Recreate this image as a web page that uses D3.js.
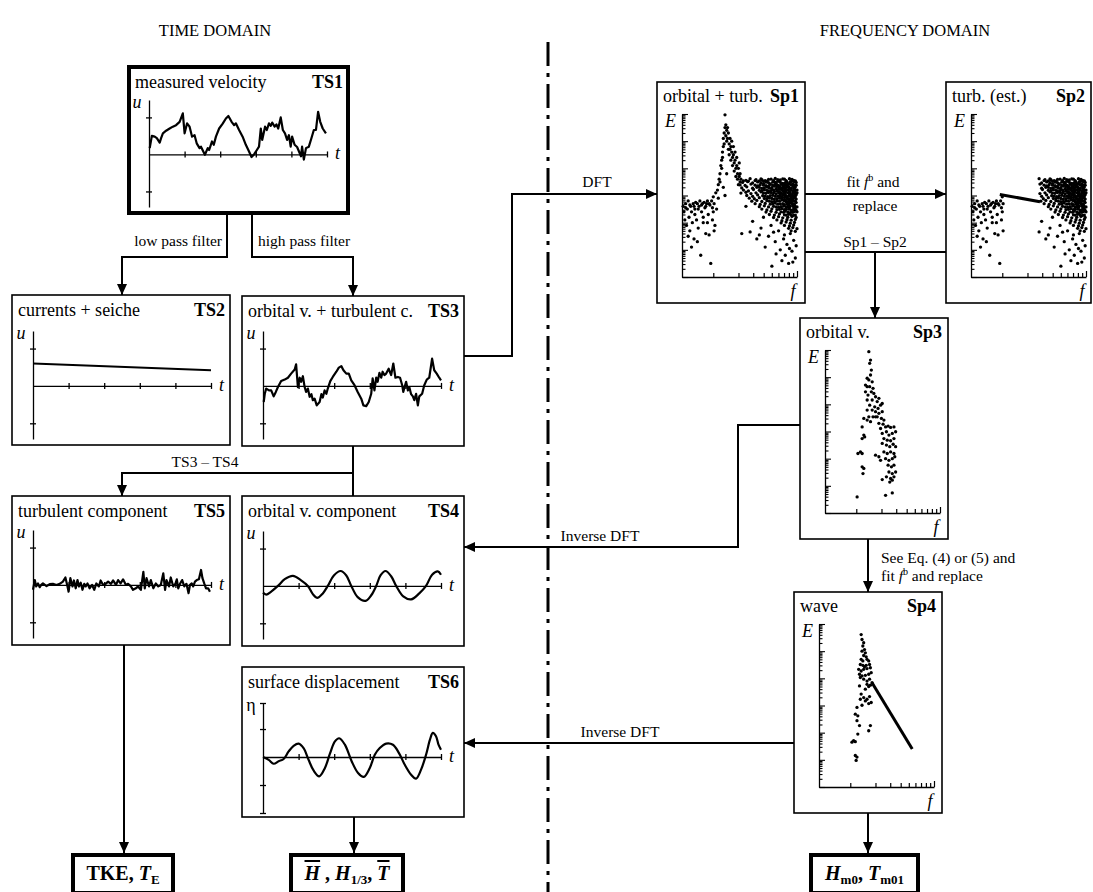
<!DOCTYPE html>
<html>
<head>
<meta charset="utf-8">
<script src="https://cdn.jsdelivr.net/npm/d3@7"></script>
<style>
  body { margin: 0; background: #fff; }
  svg { display: block; font-family: "Liberation Serif", "Times New Roman", serif; }
</style>
</head>
<body>
<svg id="chart" width="1093" height="892" font-family="Liberation Serif, Times New Roman, serif"></svg>
<script>
// ---------- data ----------
const headings = ['TIME DOMAIN', 'FREQUENCY DOMAIN'];
const tsTicks = [1, 2, 3, 4, 5];

// time series: [t (tick units), u (tick units)]
const ts1Velocity = [[0.02,0.17],[0.08,0.5],[0.16,0.48],[0.22,0.44],[0.30,0.32],[0.34,0.44],[0.39,0.57],[0.48,0.64],[0.58,0.70],[0.67,0.75],[0.76,0.79],[0.86,0.88],[0.95,1.11],[1.00,0.57],[1.07,0.84],[1.14,0.75],[1.21,0.48],[1.28,0.52],[1.34,0.30],[1.42,0.17],[1.46,0.21],[1.57,-0.01],[1.65,0.17],[1.69,0.12],[1.77,0.35],[1.82,0.26],[1.88,0.48],[1.97,0.70],[2.07,0.83],[2.16,0.97],[2.23,1.04],[2.32,0.88],[2.39,0.79],[2.44,0.84],[2.53,0.66],[2.63,0.48],[2.72,0.26],[2.81,0.08],[2.88,-0.07],[2.95,0.0],[3.03,0.12],[3.09,0.21],[3.14,0.70],[3.18,0.39],[3.26,0.75],[3.31,0.66],[3.37,0.84],[3.42,0.77],[3.46,0.86],[3.53,0.75],[3.58,0.81],[3.63,0.70],[3.70,1.00],[3.76,0.66],[3.82,0.57],[3.88,0.39],[3.93,0.52],[3.98,0.21],[4.02,0.48],[4.09,0.26],[4.16,0.20],[4.27,-0.05],[4.30,0.21],[4.35,-0.14],[4.41,0.17],[4.49,0.21],[4.56,0.43],[4.63,0.66],[4.69,0.66],[4.75,1.15],[4.81,0.88],[4.88,0.70],[4.97,0.57]];
const ts2Current = [[0, 0.60], [5, 0.42]];
const ts3OrbTurb = [[0.02,-0.43],[0.05,-0.21],[0.09,-0.07],[0.17,-0.12],[0.23,-0.12],[0.30,-0.28],[0.36,-0.16],[0.42,-0.03],[0.51,0.13],[0.61,0.17],[0.70,0.22],[0.79,0.33],[0.89,0.44],[0.93,0.58],[0.98,-0.03],[1.03,0.22],[1.07,0.11],[1.12,0.26],[1.17,-0.03],[1.21,-0.16],[1.26,-0.07],[1.31,-0.29],[1.36,-0.22],[1.40,-0.38],[1.45,-0.34],[1.51,-0.52],[1.59,-0.43],[1.64,-0.22],[1.68,-0.31],[1.73,-0.12],[1.78,-0.21],[1.82,-0.07],[1.89,0.13],[1.96,0.24],[2.06,0.38],[2.13,0.49],[2.20,0.53],[2.26,0.42],[2.34,0.33],[2.41,0.33],[2.48,0.15],[2.57,0.02],[2.66,-0.16],[2.76,-0.34],[2.82,-0.52],[2.90,-0.54],[2.97,-0.43],[3.04,-0.21],[3.08,0.20],[3.13,-0.12],[3.18,0.22],[3.22,0.11],[3.27,0.35],[3.32,0.22],[3.36,0.38],[3.41,0.29],[3.46,0.33],[3.53,0.46],[3.60,0.29],[3.66,0.60],[3.72,0.22],[3.79,0.24],[3.85,0.22],[3.91,0.02],[3.94,-0.16],[4.02,0.11],[4.07,-0.12],[4.11,-0.03],[4.16,-0.22],[4.21,-0.28],[4.25,-0.38],[4.30,-0.21],[4.35,-0.52],[4.39,-0.28],[4.47,-0.21],[4.53,0.02],[4.60,0.17],[4.67,0.22],[4.75,0.73],[4.81,0.42],[4.88,0.33],[4.95,0.22],[5.00,0.15]];
const ts4Orbital = [[0,-0.18],[0.09,-0.23],[0.23,-0.15],[0.42,0.0],[0.61,0.18],[0.84,0.27],[1.07,0.15],[1.26,0.0],[1.40,-0.22],[1.52,-0.32],[1.68,-0.20],[1.82,0.0],[1.99,0.28],[2.18,0.40],[2.34,0.28],[2.48,0.0],[2.66,-0.30],[2.88,-0.40],[3.04,-0.25],[3.18,0.0],[3.30,0.28],[3.44,0.40],[3.60,0.26],[3.74,0.0],[3.94,-0.28],[4.16,-0.36],[4.39,-0.20],[4.58,0.0],[4.75,0.30],[4.91,0.39],[5.00,0.30]];
const ts5Turbulent = [[0.00,-0.13],[0.05,0.13],[0.09,-0.04],[0.14,0.04],[0.19,-0.06],[0.23,0],[0.28,0.04],[0.38,-0.03],[0.47,0.02],[0.56,0.03],[0.66,0],[0.75,0.03],[0.84,0.09],[0.91,0.20],[0.96,0],[1.00,-0.18],[1.05,0.18],[1.11,-0.04],[1.15,0.12],[1.20,-0.09],[1.25,0.13],[1.29,-0.04],[1.34,0.06],[1.39,-0.13],[1.44,0.03],[1.48,-0.04],[1.53,0.04],[1.59,-0.09],[1.66,0],[1.72,-0.13],[1.78,0.04],[1.85,-0.04],[1.90,0.12],[1.97,0],[2.04,0.03],[2.11,0.09],[2.19,0.03],[2.25,0.12],[2.33,0],[2.39,0.13],[2.46,0.04],[2.53,0.15],[2.61,0],[2.67,0.03],[2.75,-0.04],[2.81,-0.13],[2.89,-0.09],[2.95,-0.04],[3.03,-0.13],[3.10,0.35],[3.14,-0.09],[3.19,0.18],[3.26,-0.04],[3.31,0.13],[3.38,-0.09],[3.45,0.04],[3.52,-0.04],[3.59,0],[3.66,0.31],[3.71,-0.13],[3.75,0.13],[3.82,-0.04],[3.87,0.20],[3.94,-0.04],[4.00,0.03],[4.04,0.15],[4.08,-0.09],[4.13,0.03],[4.19,0.13],[4.25,-0.04],[4.31,0.03],[4.37,-0.22],[4.41,0],[4.46,0.04],[4.50,-0.04],[4.55,0.09],[4.60,0.13],[4.66,0.15],[4.72,0.40],[4.76,0.18],[4.81,0.04],[4.86,-0.09],[4.92,-0.09],[4.97,-0.18]];
const ts6Surface = [[0,0],[0.16,-0.10],[0.30,-0.24],[0.44,-0.15],[0.58,-0.07],[0.72,0.20],[0.86,0.40],[1.00,0.48],[1.14,0.32],[1.28,-0.10],[1.42,-0.48],[1.58,-0.69],[1.74,-0.39],[1.88,0.12],[2.02,0.56],[2.14,0.67],[2.30,0.44],[2.49,-0.15],[2.67,-0.57],[2.83,-0.71],[3.00,-0.39],[3.14,0.08],[3.28,0.32],[3.46,0.48],[3.65,0.44],[3.82,0.14],[3.98,-0.27],[4.16,-0.63],[4.30,-0.77],[4.44,-0.45],[4.58,0.08],[4.69,0.62],[4.77,0.86],[4.86,0.74],[4.93,0.44],[5.00,0.26]];

// spectra: [log10 f, log10 E]
const specFDomain = [0.423, 10];
const specEDomain = [1e-6, 1];
const specFTicks = [1, 2, 3, 4, 5, 6, 7, 8, 9, 10];
const sp1LowFreq = [[-0.36,-3.4],[-0.35,-3.6],[-0.34,-3.9],[-0.33,-3.3],[-0.32,-4.1],[-0.31,-3.5],[-0.30,-3.2],[-0.29,-3.8],[-0.28,-4.3],[-0.27,-3.4],[-0.26,-3.6],[-0.25,-4.0],[-0.24,-3.3],[-0.23,-4.6],[-0.22,-3.5],[-0.21,-3.25],[-0.20,-3.9],[-0.19,-3.3],[-0.18,-4.2],[-0.17,-3.4],[-0.16,-3.2],[-0.15,-5.2],[-0.14,-3.6],[-0.13,-3.3],[-0.12,-4.0],[-0.11,-3.25],[-0.10,-3.45],[-0.09,-4.4],[-0.08,-3.3],[-0.07,-3.2],[-0.06,-3.7],[-0.05,-4.45],[-0.04,-3.35],[-0.03,-5.5],[-0.02,-3.2],[-0.01,-3.9],[0.0,-3.05],[0.01,-3.3],[0.02,-4.1],[0.03,-2.9],[0.04,-3.5],[-0.30,-4.5],[-0.26,-4.9],[-0.19,-4.7],[-0.12,-3.8],[-0.07,-4.0],[-0.22,-3.7],[0.0,-3.6],[0.01,-4.3],[-0.33,-3.45],[-0.28,-3.35],[-0.23,-3.4],[-0.18,-3.5],[-0.14,-3.35],[-0.09,-3.4],[-0.05,-3.3],[-0.01,-3.45]];
const sp1Peak = [[0.05,-2.8],[0.06,-3.1],[0.06,-2.6],[0.07,-2.4],[0.08,-2.2],[0.08,-2.5],[0.09,-1.9],[0.10,-1.7],[0.10,-2.0],[0.11,-1.4],[0.11,-1.6],[0.12,-1.2],[0.12,-0.9],[0.13,-1.1],[0.13,-0.7],[0.14,-0.5],[0.14,-0.03],[0.15,-0.4],[0.15,-0.8],[0.16,-0.6],[0.16,-1.0],[0.17,-0.5],[0.17,-0.9],[0.18,-1.3],[0.18,-0.7],[0.19,-1.1],[0.19,-1.5],[0.20,-0.9],[0.20,-1.3],[0.21,-1.2],[0.21,-1.7],[0.22,-1.4],[0.22,-1.0],[0.23,-1.6],[0.23,-1.9],[0.24,-1.5],[0.24,-1.2],[0.25,-1.8],[0.25,-2.1],[0.26,-1.7],[0.26,-1.4],[0.27,-2.0],[0.27,-2.3],[0.28,-1.9],[0.28,-1.6],[0.29,-2.2],[0.29,-2.4],[0.30,-2.0],[0.30,-2.6],[0.31,-2.3],[0.31,-1.8],[0.32,-2.5],[0.32,-2.2],[0.12,-2.7],[0.14,-3.0],[0.16,-2.2]];
const sp1Block = [[0.33,-2.40],[0.39,-2.44],[0.44,-2.38],[0.51,-2.42],[0.57,-2.39],[0.62,-2.45],[0.69,-2.40],[0.74,-2.37],[0.80,-2.43],[0.85,-2.40],[0.91,-2.38],[0.96,-2.44],
  [0.35,-2.52],[0.41,-2.49],[0.47,-2.54],[0.53,-2.50],[0.60,-2.47],[0.66,-2.53],[0.71,-2.51],[0.77,-2.48],[0.83,-2.55],[0.88,-2.50],[0.94,-2.47],[0.99,-2.52],
  [0.32,-2.61],[0.38,-2.63],[0.45,-2.58],[0.50,-2.62],[0.56,-2.60],[0.63,-2.64],[0.68,-2.59],[0.74,-2.61],[0.79,-2.65],[0.86,-2.60],[0.90,-2.58],[0.97,-2.63],
  [0.34,-2.72],[0.40,-2.68],[0.47,-2.73],[0.52,-2.70],[0.58,-2.74],[0.64,-2.69],[0.70,-2.71],[0.76,-2.67],[0.82,-2.72],[0.87,-2.70],[0.93,-2.74],[0.98,-2.69],
  [0.36,-2.80],[0.42,-2.83],[0.48,-2.78],[0.55,-2.81],[0.61,-2.79],[0.66,-2.84],[0.72,-2.80],[0.78,-2.77],[0.84,-2.82],[0.89,-2.79],[0.95,-2.83],[1.00,-2.80],
  [0.33,-2.91],[0.39,-2.88],[0.45,-2.93],[0.51,-2.90],[0.57,-2.87],[0.63,-2.92],[0.69,-2.89],[0.75,-2.94],[0.81,-2.90],[0.86,-2.88],[0.92,-2.92],[0.97,-2.89],
  [0.40,-3.00],[0.47,-3.03],[0.53,-2.98],[0.59,-3.01],[0.65,-3.04],[0.71,-2.99],[0.77,-3.02],[0.83,-2.98],[0.88,-3.03],[0.94,-3.00],[0.99,-2.97],
  [0.43,-3.10],[0.49,-3.12],[0.55,-3.08],[0.61,-3.11],[0.67,-3.09],[0.73,-3.13],[0.79,-3.10],[0.85,-3.07],[0.90,-3.12],[0.96,-3.09],
  [0.46,-3.21],[0.52,-3.18],[0.58,-3.22],[0.64,-3.19],[0.70,-3.23],[0.76,-3.20],[0.82,-3.17],[0.87,-3.22],[0.93,-3.19],[0.98,-3.21],
  [0.50,-3.30],[0.56,-3.33],[0.62,-3.29],[0.68,-3.32],[0.74,-3.28],[0.80,-3.31],[0.85,-3.34],[0.91,-3.29],[0.96,-3.32],
  [0.55,-3.41],[0.61,-3.38],[0.66,-3.42],[0.72,-3.40],[0.78,-3.43],[0.84,-3.39],[0.89,-3.41],[0.95,-3.37],[1.00,-3.42],
  [0.58,-3.50],[0.64,-3.53],[0.70,-3.49],[0.76,-3.52],[0.82,-3.48],[0.87,-3.51],[0.93,-3.54],[0.98,-3.50],
  [0.63,-3.61],[0.69,-3.58],[0.75,-3.62],[0.81,-3.60],[0.86,-3.57],[0.92,-3.63],[0.97,-3.59],
  [0.67,-3.70],[0.73,-3.72],[0.79,-3.68],[0.85,-3.71],[0.90,-3.69],[0.96,-3.73],
  [0.72,-3.81],[0.78,-3.78],[0.83,-3.82],[0.89,-3.80],[0.94,-3.77],[0.99,-3.81],
  [0.76,-3.90],[0.82,-3.93],[0.88,-3.89],[0.93,-3.91],[0.98,-3.88],
  [0.81,-4.01],[0.87,-3.98],[0.92,-4.02],[0.97,-3.99],
  [0.85,-4.10],[0.91,-4.12],[0.96,-4.09],
  [0.90,-4.21],[0.95,-4.18],[1.00,-4.22],
  [0.93,-4.30],[0.98,-4.32],
  [0.36,-2.46],[0.42,-2.47],[0.50,-2.45],[0.55,-2.46],[0.64,-2.48],[0.72,-2.45],[0.79,-2.47],[0.87,-2.45],[0.92,-2.49],[0.98,-2.46],
  [0.60,-2.56],[0.68,-2.57],[0.75,-2.55],[0.81,-2.58],[0.89,-2.56],[0.95,-2.57],
  [0.66,-2.66],[0.73,-2.65],[0.79,-2.68],[0.84,-2.66],[0.90,-2.67],[0.95,-2.65],
  [0.70,-2.76],[0.75,-2.75],[0.81,-2.77],[0.86,-2.75],[0.92,-2.77],[0.97,-2.76],
  [0.73,-2.85],[0.79,-2.86],[0.84,-2.85],[0.91,-2.86],[0.96,-2.85],
  [0.80,-2.96],[0.86,-2.95],[0.91,-2.96],[0.97,-2.94],
  [0.82,-3.06],[0.88,-3.05],[0.93,-3.06],[0.98,-3.05],
  [0.85,-3.15],[0.90,-3.16],[0.95,-3.15],
  [0.88,-3.26],[0.93,-3.25],[0.99,-3.26],
  [0.90,-3.36],[0.97,-3.35],[0.91,-3.46],[0.96,-3.45],[0.94,-3.56],[0.99,-3.55],
  [0.58,-2.42],[0.66,-2.41],[0.77,-2.42],[0.83,-2.39],[0.94,-2.41],
  [0.57,-2.53],[0.63,-2.51],[0.74,-2.52],[0.80,-2.51],[0.86,-2.53],[0.92,-2.52],[0.97,-2.50],
  [0.53,-2.65],[0.60,-2.62],[0.71,-2.63],[0.77,-2.62],[0.83,-2.63],[0.88,-2.62],[0.93,-2.61],[0.99,-2.62],
  [0.55,-2.70],[0.61,-2.72],[0.67,-2.73],[0.79,-2.72],[0.85,-2.73],[0.90,-2.71],[0.96,-2.72],
  [0.58,-2.83],[0.64,-2.81],[0.69,-2.82],[0.76,-2.83],[0.82,-2.80],[0.87,-2.82],[0.93,-2.80],[0.98,-2.82],
  [0.60,-2.91],[0.66,-2.89],[0.72,-2.91],[0.78,-2.90],[0.84,-2.92],[0.89,-2.90],[0.95,-2.91],[1.00,-2.90],
  [0.62,-3.02],[0.68,-3.01],[0.74,-3.03],[0.80,-3.01],[0.86,-3.02],[0.91,-3.01],[0.96,-3.02],
  [0.64,-3.12],[0.70,-3.11],[0.76,-3.12],[0.82,-3.13],[0.88,-3.11],[0.93,-3.12],[0.99,-3.13],
  [0.67,-3.21],[0.73,-3.22],[0.79,-3.21],[0.85,-3.20],[0.90,-3.22],[0.96,-3.21],
  [0.71,-3.31],[0.77,-3.32],[0.83,-3.30],[0.88,-3.31],[0.94,-3.30],
  [0.75,-3.42],[0.81,-3.41],[0.87,-3.42],[0.92,-3.40],[0.98,-3.41],
  [0.79,-3.51],[0.85,-3.52],[0.90,-3.50],[0.96,-3.52],
  [0.84,-3.62],[0.89,-3.61],[0.95,-3.62],[1.00,-3.60],
  [0.87,-3.72],[0.93,-3.71],[0.98,-3.72]];
const sp1Scatter = [[0.34,-4.40],[0.44,-4.34],[0.52,-4.60],[0.62,-4.90],[0.70,-5.60],[0.47,-3.95],[0.57,-4.20],[0.66,-4.50],[0.74,-4.70],[0.78,-4.30],[0.80,-5.00],[0.84,-4.60],[0.86,-5.20],[0.88,-4.80],[0.90,-5.50],[0.92,-4.40],[0.94,-5.05],[0.96,-4.65],[0.98,-5.30],[0.99,-4.85],[0.82,-5.40],[0.75,-5.15],[0.60,-3.80],[0.39,-3.40],[0.91,-4.95],[0.85,-4.45],[0.69,-4.10],[0.55,-4.45],[0.95,-5.45],[0.72,-4.35]];
// Sp2: Sp1 with the band below replaced by a fitted f^b line
const sp2Gap = [0.02, 0.43];
const sp2Fit = [[-0.03, -2.96], [0.45, -3.23]];
const sp3Orbital = [[0.15,-0.06],[0.17,-0.37],[0.16,-0.49],[0.18,-0.74],[0.17,-0.92],[0.13,-1.04],[0.15,-1.10],[0.19,-1.17],[0.11,-1.29],[0.13,-1.35],[0.16,-1.35],[0.20,-1.41],[0.11,-1.54],[0.14,-1.66],[0.18,-1.54],[0.21,-1.60],[0.23,-1.72],[0.13,-1.84],[0.19,-1.84],[0.25,-1.90],[0.27,-1.78],[0.16,-2.03],[0.22,-2.09],[0.29,-2.03],[0.31,-1.97],[0.13,-2.21],[0.19,-2.21],[0.23,-2.27],[0.27,-2.33],[0.31,-2.27],[0.09,-2.52],[0.15,-2.46],[0.20,-2.46],[0.25,-2.46],[0.30,-2.52],[0.33,-2.58],[0.07,-2.83],[0.13,-2.58],[0.17,-2.64],[0.27,-2.70],[0.32,-2.73],[0.35,-2.83],[0.38,-2.80],[0.41,-2.85],[0.45,-2.83],[0.09,-3.13],[0.29,-2.89],[0.31,-3.07],[0.36,-3.01],[0.39,-3.13],[0.43,-3.07],[0.47,-3.01],[0.07,-3.26],[0.33,-3.26],[0.37,-3.32],[0.41,-3.34],[0.45,-3.26],[0.10,-3.20],[0.31,-3.44],[0.36,-3.50],[0.40,-3.56],[0.44,-3.47],[0.47,-3.56],[0.02,-3.81],[0.05,-3.75],[0.07,-3.81],[0.33,-3.75],[0.37,-3.81],[0.41,-3.75],[0.45,-3.81],[0.23,-3.87],[0.27,-3.93],[0.35,-4.00],[0.39,-4.06],[0.43,-4.00],[0.46,-3.93],[0.07,-4.30],[0.09,-4.36],[0.29,-4.06],[0.38,-4.24],[0.42,-4.30],[0.45,-4.24],[0.08,-4.55],[0.39,-4.49],[0.43,-4.55],[0.47,-4.49],[0.36,-4.67],[0.41,-4.73],[0.45,-4.67],[0.31,-4.77],[0.40,-4.86],[0.43,-4.79],[0.01,-5.41],[0.35,-5.35],[0.43,-5.26],[0.23,-2.46],[0.26,-2.15]];
const sp4Wave = [[0.13,-0.39],[0.14,-0.57],[0.16,-0.69],[0.15,-0.81],[0.17,-0.94],[0.14,-1.00],[0.18,-1.06],[0.16,-1.16],[0.19,-1.21],[0.13,-1.30],[0.15,-1.36],[0.20,-1.30],[0.22,-1.36],[0.12,-1.49],[0.15,-1.52],[0.17,-1.57],[0.19,-1.52],[0.23,-1.49],[0.10,-1.67],[0.13,-1.73],[0.16,-1.67],[0.20,-1.64],[0.24,-1.61],[0.11,-1.85],[0.14,-1.91],[0.18,-1.89],[0.22,-1.85],[0.25,-1.79],[0.12,-1.97],[0.16,-2.03],[0.20,-2.10],[0.23,-2.03],[0.26,-2.16],[0.24,-2.25],[0.22,-2.30],[0.20,-2.22],[0.11,-2.28],[0.18,-2.40],[0.13,-2.58],[0.16,-2.71],[0.12,-2.77],[0.20,-2.77],[0.23,-2.67],[0.18,-2.83],[0.25,-2.89],[0.22,-2.93],[0.08,-3.07],[0.14,-2.99],[0.06,-3.32],[0.09,-3.38],[0.08,-3.56],[0.11,-3.74],[0.24,-3.74],[0.22,-3.93],[0.09,-4.05],[0.04,-4.29],[0.02,-4.35],[0.06,-4.33],[0.06,-4.84],[0.08,-4.90],[0.07,-5.02]];
const sp4Fit = [[0.26, -2.16], [0.74, -4.60]];

// ---------- drawing ----------
const svg = d3.select('#chart');
const TITLE_SIZE = 18;
const LABEL_SIZE = 15.5;

svg.append('text').attr('x', 215).attr('y', 36).attr('text-anchor', 'middle')
  .attr('font-size', 16.5).text(headings[0]);
svg.append('text').attr('x', 905).attr('y', 36).attr('text-anchor', 'middle')
  .attr('font-size', 16.5).text(headings[1]);

// dash-dot divider
svg.append('line').attr('x1', 548).attr('x2', 548).attr('y1', 42).attr('y2', 892)
  .attr('stroke', '#000').attr('stroke-width', 3).attr('stroke-dasharray', '24,7,4,7');

function box(x, y, w, h, thick) {
  svg.append('rect').attr('x', x).attr('y', y).attr('width', w).attr('height', h)
    .attr('fill', '#fff').attr('stroke', '#000').attr('stroke-width', thick ? 4 : 1.6);
}

function drawTS(p) {
  box(p.x, p.y, p.w, p.h, p.thick);
  const g = svg.append('g');
  const x = d3.scaleLinear().domain([0, 5]).range([p.ox, p.ox + 178]);
  const y = d3.scaleLinear().domain(p.yDomain).range(p.yRange);

  g.append('text').attr('x', p.x + 6).attr('y', p.y + 21).attr('font-size', TITLE_SIZE).text(p.title);
  g.append('text').attr('x', p.x + p.w - 5).attr('y', p.y + 21).attr('text-anchor', 'end')
    .attr('font-size', TITLE_SIZE).attr('font-weight', 'bold').text(p.tag);

  g.append('g').attr('transform', `translate(0,${y(0)})`)
    .call(d3.axisBottom(x).tickValues(tsTicks).tickSize(3).tickSizeOuter(0).tickFormat(''))
    .call(a => a.select('.domain').attr('stroke-width', 1.3))
    .call(a => a.selectAll('.tick line').attr('y1', -3).attr('stroke-width', 1.3));
  g.append('g').attr('transform', `translate(${p.ox},0)`)
    .call(d3.axisLeft(y).tickValues(p.yTicks).tickSize(3).tickSizeOuter(0).tickFormat(''))
    .call(a => a.select('.domain').attr('stroke-width', 1.3))
    .call(a => a.selectAll('.tick line').attr('x1', 3).attr('stroke-width', 1.3));

  g.append('text').attr('x', p.ox - 12).attr('y', y(p.yDomain[1]) + 8).attr('text-anchor', 'middle')
    .attr('font-size', 18).attr('font-style', p.yItalic ? 'italic' : 'normal').text(p.yLabel);
  g.append('text').attr('x', x(5) + 8).attr('y', y(0) + 5).attr('font-size', 18)
    .attr('font-style', 'italic').text('t');

  const line = d3.line().x(d => x(d[0])).y(d => y(d[1])).curve(p.curve || d3.curveLinear);
  g.append('path').datum(p.data).attr('d', line).attr('fill', 'none').attr('stroke', '#000')
    .attr('stroke-width', 2.2).attr('stroke-linejoin', 'round');
}

const stdY = [-1.42, 1.47];
drawTS({ x: 129, y: 67, w: 219, h: 146, thick: true, ox: 149, yDomain: stdY, yRange: [207, 100],
  yTicks: [-1, 1], title: 'measured velocity', tag: 'TS1', yLabel: 'u', yItalic: true, data: ts1Velocity });
drawTS({ x: 12, y: 295, w: 218, h: 150, ox: 33, yDomain: stdY, yRange: [439, 331],
  yTicks: [-1, 1], title: 'currents + seiche', tag: 'TS2', yLabel: 'u', yItalic: true, data: ts2Current });
drawTS({ x: 242, y: 296, w: 222, h: 150, ox: 263, yDomain: stdY, yRange: [439, 331],
  yTicks: [-1, 1], title: 'orbital v. + turbulent c.', tag: 'TS3', yLabel: 'u', yItalic: true, data: ts3OrbTurb });
drawTS({ x: 12, y: 496, w: 218, h: 149, ox: 33, yDomain: stdY, yRange: [638, 530],
  yTicks: [-1, 1], title: 'turbulent component', tag: 'TS5', yLabel: 'u', yItalic: true, data: ts5Turbulent });
drawTS({ x: 242, y: 496, w: 222, h: 150, ox: 263, yDomain: stdY, yRange: [639, 531],
  yTicks: [-1, 1], title: 'orbital v. component', tag: 'TS4', yLabel: 'u', yItalic: true,
  data: ts4Orbital, curve: d3.curveCatmullRom });
drawTS({ x: 242, y: 667, w: 222, h: 150, ox: 263, yDomain: [-2.0, 1.93], yRange: [813, 703],
  yTicks: [-2.0, -1, 1, 1.93], title: 'surface displacement', tag: 'TS6', yLabel: 'η', yItalic: false,
  data: ts6Surface, curve: d3.curveCatmullRom });

function drawSp(p) {
  box(p.x, p.y, p.w, p.h, false);
  const g = svg.append('g');
  const x = d3.scaleLog().domain(specFDomain).range([p.x + 25, p.x + 140]);
  const y = d3.scaleLog().domain(specEDomain).range([p.y + 195, p.y + 32]);
  const isMajor = d => Math.abs(Math.log10(d) - Math.round(Math.log10(d))) < 1e-6;

  g.append('text').attr('x', p.x + 6).attr('y', p.y + 20).attr('font-size', TITLE_SIZE).text(p.title);
  g.append('text').attr('x', p.x + p.w - 6).attr('y', p.y + 20).attr('text-anchor', 'end')
    .attr('font-size', TITLE_SIZE).attr('font-weight', 'bold').text(p.tag);

  g.append('g').attr('transform', `translate(0,${p.y + 195})`)
    .call(d3.axisTop(x).tickValues(specFTicks).tickSize(4).tickSizeOuter(0).tickFormat(''))
    .call(a => a.select('.domain').attr('stroke-width', 1.3))
    .call(a => a.selectAll('.tick line').attr('y2', d => d === 10 ? -6 : -4).attr('stroke-width', 1.2));
  g.append('g').attr('transform', `translate(${p.x + 25},0)`)
    .call(d3.axisRight(y).tickValues(y.ticks()).tickSize(3).tickSizeOuter(0).tickFormat(''))
    .call(a => a.select('.domain').attr('stroke-width', 1.3))
    .call(a => a.selectAll('.tick line').attr('x2', d => isMajor(d) ? 6 : 3.5).attr('stroke-width', 1.1));

  g.append('text').attr('x', p.x + 8).attr('y', p.y + 45).attr('font-size', 18)
    .attr('font-style', 'italic').text('E');
  g.append('text').attr('x', p.x + 136).attr('y', p.y + 215).attr('text-anchor', 'middle')
    .attr('font-size', 18).attr('font-style', 'italic').text('f');

  g.selectAll('circle.pt').data(p.points).join('circle').attr('class', 'pt')
    .attr('cx', d => x(10 ** d[0])).attr('cy', d => y(10 ** d[1])).attr('r', 1.65).attr('fill', '#000');

  if (p.fit) {
    const line = d3.line().x(d => x(10 ** d[0])).y(d => y(10 ** d[1]));
    g.append('path').datum(p.fit).attr('d', line).attr('stroke', '#000').attr('stroke-width', 3).attr('fill', 'none');
  }
}

const sp1All = [...sp1LowFreq, ...sp1Peak, ...sp1Block, ...sp1Scatter];
const sp2All = sp1All.filter(d => d[0] < sp2Gap[0] || d[0] > sp2Gap[1]);

drawSp({ x: 657, y: 82, w: 148, h: 221, title: 'orbital + turb.', tag: 'Sp1', points: sp1All });
drawSp({ x: 946, y: 82, w: 145, h: 221, title: 'turb. (est.)', tag: 'Sp2', points: sp2All, fit: sp2Fit });
drawSp({ x: 800, y: 318, w: 148, h: 221, title: 'orbital v.', tag: 'Sp3', points: sp3Orbital });
drawSp({ x: 794, y: 592, w: 148, h: 221, title: 'wave', tag: 'Sp4', points: sp4Wave, fit: sp4Fit });

// ---------- connectors ----------
function arrowHead(x, y, dir) {
  const L = 11, W = 5;
  const pts = {
    down: [[x, y], [x - W, y - L], [x + W, y - L]],
    up: [[x, y], [x - W, y + L], [x + W, y + L]],
    right: [[x, y], [x - L, y - W], [x - L, y + W]],
    left: [[x, y], [x + L, y - W], [x + L, y + W]]
  }[dir];
  svg.append('polygon').attr('points', pts.map(p => p.join(',')).join(' ')).attr('fill', '#000');
}

const connectors = [
  { pts: [[227, 215], [227, 257], [122, 257], [122, 295]], arrow: 'down' },
  { pts: [[252, 215], [252, 257], [353, 257], [353, 296]], arrow: 'down' },
  { pts: [[464, 356], [512, 356], [512, 194], [657, 194]], arrow: 'right' },
  { pts: [[353, 446], [353, 496]] },
  { pts: [[353, 473], [122, 473], [122, 496]], arrow: 'down' },
  { pts: [[124, 645], [124, 853]], arrow: 'down' },
  { pts: [[354, 817], [354, 853]], arrow: 'down' },
  { pts: [[805, 194], [946, 194]], arrow: 'right' },
  { pts: [[805, 252], [946, 252]] },
  { pts: [[875, 252], [875, 318]], arrow: 'down' },
  { pts: [[800, 425], [738, 425], [738, 547], [464, 547]], arrow: 'left' },
  { pts: [[868, 539], [868, 592]], arrow: 'down' },
  { pts: [[794, 743], [464, 743]], arrow: 'left' },
  { pts: [[868, 813], [868, 853]], arrow: 'down' }
];
connectors.forEach(c => {
  svg.append('path').attr('d', d3.line()(c.pts)).attr('fill', 'none')
    .attr('stroke', '#000').attr('stroke-width', 2);
  if (c.arrow) { const e = c.pts[c.pts.length - 1]; arrowHead(e[0], e[1], c.arrow); }
});

function label(x, y, anchor, parts) {
  const t = svg.append('text').attr('x', x).attr('y', y).attr('text-anchor', anchor).attr('font-size', LABEL_SIZE);
  parts.forEach(pt => {
    const s = t.append('tspan').text(pt.t);
    if (pt.i) s.attr('font-style', 'italic');
    if (pt.sup) s.attr('dy', -6).attr('font-size', 10);
    if (pt.down) s.attr('dy', pt.down);
  });
}
label(222, 246, 'end', [{ t: 'low pass filter' }]);
label(258, 246, 'start', [{ t: 'high pass filter' }]);
label(597, 187, 'middle', [{ t: 'DFT' }]);
label(205, 467, 'middle', [{ t: 'TS3 \u2013 TS4' }]);
label(873, 187, 'middle', [{ t: 'fit ' }, { t: 'f', i: true }, { t: 'b', sup: true }, { t: ' and', down: 6 }]);
label(875, 211, 'middle', [{ t: 'replace' }]);
label(875, 247, 'middle', [{ t: 'Sp1 \u2013 Sp2' }]);
label(600, 541, 'middle', [{ t: 'Inverse DFT' }]);
label(881, 563, 'start', [{ t: 'See Eq. (4) or (5) and' }]);
label(881, 581, 'start', [{ t: 'fit ' }, { t: 'f', i: true }, { t: 'b', sup: true }, { t: ' and replace', down: 6 }]);
label(620, 737, 'middle', [{ t: 'Inverse DFT' }]);

// ---------- result boxes ----------
function resultBox(x, w, parts) {
  box(x, 855, w, 38, true);
  const t = svg.append('text').attr('x', x + w / 2).attr('y', 880).attr('text-anchor', 'middle')
    .attr('font-size', 20).attr('font-weight', 'bold');
  parts.forEach(pt => {
    const s = t.append('tspan').text(pt.t);
    if (pt.i) s.attr('font-style', 'italic');
    if (pt.over) s.style('text-decoration', 'overline');
    if (pt.sub) s.attr('font-size', 13).attr('dy', 4);
    if (pt.up) s.attr('dy', -4);
  });
}
resultBox(73, 100, [{ t: 'TKE, ' }, { t: 'T', i: true }, { t: 'E', sub: true }]);
resultBox(291, 112, [{ t: 'H', i: true, over: true }, { t: ' , ' }, { t: 'H', i: true }, { t: '1/3', sub: true },
  { t: ', ', up: true }, { t: 'T', i: true, over: true }]);
resultBox(811, 107, [{ t: 'H', i: true }, { t: 'm0', sub: true }, { t: ', ', up: true }, { t: 'T', i: true },
  { t: 'm01', sub: true }]);
</script>
</body>
</html>
